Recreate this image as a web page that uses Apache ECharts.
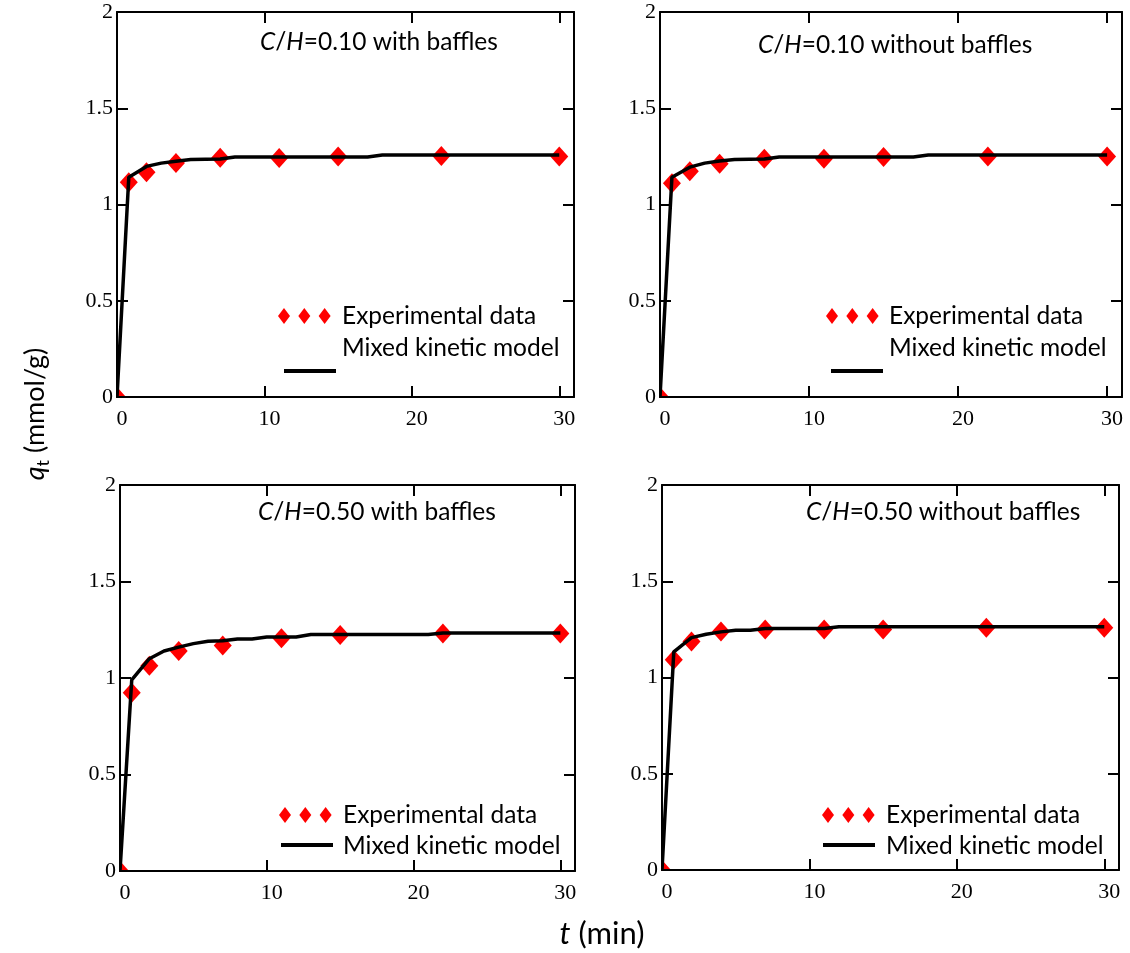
<!DOCTYPE html>
<html>
<head>
<meta charset="utf-8">
<script src="https://cdn.jsdelivr.net/npm/echarts@6/dist/echarts.min.js"></script>
<style>
html,body{margin:0;padding:0;background:#fff;}
#chart{width:1130px;height:953px;}
</style>
</head>
<body>
<div id="chart"></div>
<script>
// ---------- data ----------
const xTicks = [0, 10, 20, 30];
const yTicks = [0, 0.5, 1, 1.5, 2];

const tExp = [0, 0.8, 2, 4, 7, 11, 15, 22, 30];
const qExpTL = [0, 1.116, 1.168, 1.215, 1.243, 1.241, 1.250, 1.252, 1.250];
const qExpTR = [0, 1.111, 1.173, 1.212, 1.238, 1.238, 1.247, 1.250, 1.250];
const qExpBL = [0, 0.924, 1.064, 1.140, 1.168, 1.206, 1.223, 1.231, 1.231];
const qExpBR = [0, 1.092, 1.187, 1.239, 1.250, 1.250, 1.250, 1.259, 1.259];

const tModelTL = [0, 0.8, 2, 3, 4, 5, 7, 8, 17, 18, 30];
const qModelTL = [0, 1.142, 1.198, 1.215, 1.225, 1.234, 1.236, 1.247, 1.247, 1.257, 1.257];
const tModelTR = [0, 0.8, 2, 3, 4, 5, 7, 8, 17, 18, 30];
const qModelTR = [0, 1.142, 1.194, 1.215, 1.226, 1.234, 1.236, 1.247, 1.247, 1.257, 1.257];
const tModelBL = [0, 0.8, 2, 3, 4, 5, 6, 7, 8, 9, 10, 12, 13, 21, 22, 30];
const qModelBL = [0, 0.99, 1.10, 1.14, 1.16, 1.178, 1.19, 1.193, 1.202, 1.202, 1.212, 1.212, 1.225, 1.225, 1.233, 1.233];
const tModelBR = [0, 0.8, 2, 3, 4, 5, 6, 7, 11, 12, 30];
const qModelBR = [0, 1.133, 1.207, 1.225, 1.237, 1.245, 1.245, 1.254, 1.254, 1.264, 1.264];

const panelTitles = [
  ['0.10', 'with baffles'],
  ['0.10', 'without baffles'],
  ['0.50', 'with baffles'],
  ['0.50', 'without baffles']
];
const legendExp = 'Experimental data';
const legendModel = 'Mixed kinetic model';

// ---------- layout ----------
const grids = [
  {left: 117, top: 12, width: 457, height: 385},
  {left: 660, top: 12, width: 462, height: 385},
  {left: 120, top: 485, width: 455, height: 386},
  {left: 662, top: 485, width: 457, height: 385}
];
const expSets = [qExpTL, qExpTR, qExpBL, qExpBR];
const modelSets = [[tModelTL, qModelTL], [tModelTR, qModelTR], [tModelBL, qModelBL], [tModelBR, qModelBR]];

const sansFont = 'Lato';
const serifFont = 'Liberation Serif';
const sansSize = 24.5;

const xAxes = [], yAxes = [], series = [];
const graphics = [];
grids.forEach((g, i) => {
  const common = {
    type: 'value', gridIndex: i, splitLine: {show: false}, z: 10,
    axisLine: {show: true, onZero: false, lineStyle: {color: '#000', width: 2}},
    axisTick: {show: true, inside: true, length: 11, lineStyle: {color: '#000', width: 2}}
  };
  xAxes.push(Object.assign({}, common, {
    position: 'bottom', min: xTicks[0], max: 31, interval: xTicks[1] - xTicks[0],
    axisLabel: {show: true, color: '#000', fontFamily: serifFont, fontSize: 22, margin: 11, padding: [0, 0, 0, 10]}
  }));
  xAxes.push(Object.assign({}, common, {
    position: 'top', min: xTicks[0], max: 31, interval: xTicks[1] - xTicks[0],
    axisLabel: {show: false}
  }));
  yAxes.push(Object.assign({}, common, {
    position: 'left', min: yTicks[0], max: yTicks[yTicks.length - 1], interval: yTicks[1] - yTicks[0],
    axisLabel: {show: true, color: '#000', fontFamily: serifFont, fontSize: 22, margin: 4, padding: [7, 0, 0, 0]}
  }));
  yAxes.push(Object.assign({}, common, {
    position: 'right', min: yTicks[0], max: yTicks[yTicks.length - 1], interval: yTicks[1] - yTicks[0],
    axisLabel: {show: false}
  }));
  series.push({
    type: 'scatter', name: legendExp, xAxisIndex: 2 * i, yAxisIndex: 2 * i,
    data: tExp.map((t, k) => [t, expSets[i][k]]),
    symbol: 'diamond', symbolSize: [18, 20], clip: true,
    itemStyle: {color: '#ff0000', opacity: 1}, z: 2, silent: true
  });
  const m = modelSets[i];
  series.push({
    type: 'line', name: legendModel, xAxisIndex: 2 * i, yAxisIndex: 2 * i,
    data: m[0].map((t, k) => [t, m[1][k]]),
    showSymbol: false, symbol: 'none', clip: true,
    lineStyle: {color: '#000', width: 3.5}, z: 3, silent: true
  });
  // white masks outside the plot area at the origin corner (marks are clipped to the frame)
  const b = g.top + g.height;
  graphics.push({type: 'rect', silent: true, z: 5,
    shape: {x: g.left - 14, y: b - 14, width: 13, height: 28}, style: {fill: '#fff'}});
  graphics.push({type: 'rect', silent: true, z: 5,
    shape: {x: g.left - 14, y: b + 1, width: 28, height: 13}, style: {fill: '#fff'}});
});

const titlePos = [
  {x: 260, y: 42},
  {x: 758, y: 45},
  {x: 258, y: 512},
  {x: 806, y: 512}
];
panelTitles.forEach((p, i) => {
  graphics.push({
    type: 'text', silent: true, x: titlePos[i].x, y: titlePos[i].y, z: 20,
    style: {
      text: '{it|C}{n|/}{it|H}{n|=' + p[0] + ' ' + p[1] + '}',
      verticalAlign: 'middle',
      rich: {
        it: {fontFamily: sansFont, fontSize: sansSize, fontStyle: 'italic', fontWeight: 'normal', fill: '#000'},
        n: {fontFamily: sansFont, fontSize: sansSize, fontWeight: 'normal', fill: '#000'}
      }
    }
  });
});

// legends (drawn as graphic keys)
const legendPos = [
  {dx: 284, dy: 316, tx: 342, my: 348, lx: 284, ly: 371},
  {dx: 832, dy: 316, tx: 889, my: 348, lx: 831, ly: 371},
  {dx: 285, dy: 815, tx: 343, my: 846, lx: 281, ly: 845},
  {dx: 828, dy: 815, tx: 886, my: 846, lx: 823, ly: 845}
];
legendPos.forEach(p => {
  for (let k = 0; k < 3; k++) {
    const cx = p.dx + k * 20.3;
    graphics.push({
      type: 'polygon', silent: true, z: 20,
      shape: {points: [[cx, p.dy - 8], [cx + 6, p.dy], [cx, p.dy + 8], [cx - 6, p.dy]]},
      style: {fill: '#ff0000'}
    });
  }
  graphics.push({
    type: 'line', silent: true, z: 20,
    shape: {x1: p.lx, y1: p.ly, x2: p.lx + 52, y2: p.ly},
    style: {stroke: '#000', lineWidth: 4}
  });
  graphics.push({
    type: 'text', silent: true, x: p.tx, y: p.dy, z: 20,
    style: {text: legendExp, font: sansSize + 'px ' + sansFont, fill: '#000', verticalAlign: 'middle'}
  });
  graphics.push({
    type: 'text', silent: true, x: p.tx, y: p.my, z: 20,
    style: {text: legendModel, font: sansSize + 'px ' + sansFont, fill: '#000', verticalAlign: 'middle'}
  });
});

// axis titles
graphics.push({
  type: 'text', silent: true, x: 602, y: 934, z: 20,
  style: {
    text: '{it|t}{n| (min)}', align: 'center', verticalAlign: 'middle',
    rich: {
      it: {fontFamily: sansFont, fontSize: 31, fontStyle: 'italic', fill: '#000'},
      n: {fontFamily: sansFont, fontSize: 31, fill: '#000'}
    }
  }
});
graphics.push({
  type: 'text', silent: true, x: 35, y: 414, rotation: Math.PI / 2, z: 20,
  style: {
    text: '{it|q}{sub|t}{n| (mmol/g)}', align: 'center', verticalAlign: 'middle',
    rich: {
      it: {fontFamily: sansFont, fontSize: 27, fontStyle: 'italic', fill: '#000', lineHeight: 34, verticalAlign: 'middle'},
      sub: {fontFamily: sansFont, fontSize: 18, fill: '#000', lineHeight: 34, verticalAlign: 'bottom'},
      n: {fontFamily: sansFont, fontSize: 27, fill: '#000', lineHeight: 34, verticalAlign: 'middle'}
    }
  }
});

const chart = echarts.init(document.getElementById('chart'), null, {renderer: 'canvas'});
chart.setOption({
  backgroundColor: '#fff',
  animation: false,
  grid: grids.map(g => Object.assign({containLabel: false}, g)),
  xAxis: xAxes,
  yAxis: yAxes,
  series: series,
  graphic: graphics
});
</script>
</body>
</html>
